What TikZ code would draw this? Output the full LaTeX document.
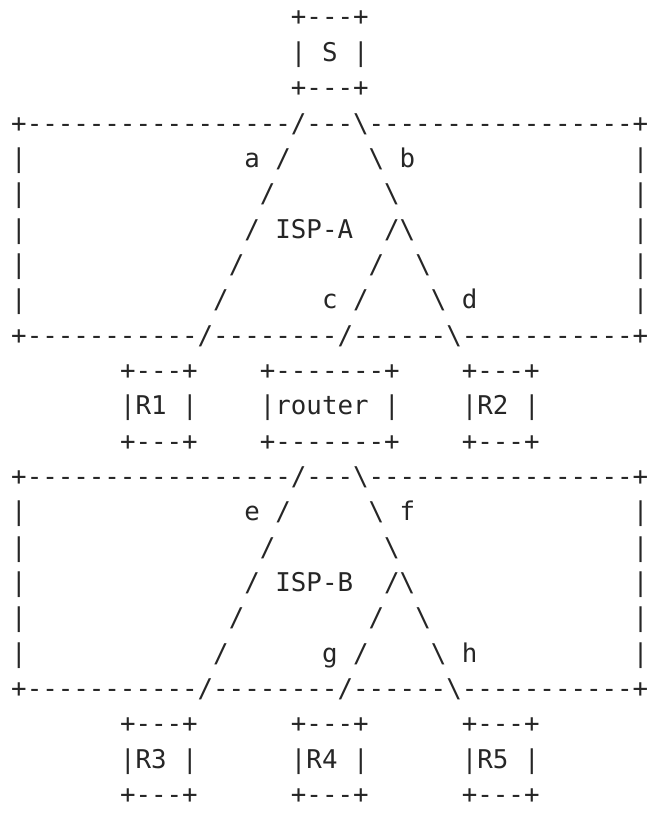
\documentclass[tikz,border=0pt]{standalone}
\usepackage{fontspec}
\setmonofont{DejaVu Sans Mono}
\newcommand{\bksl}{\textbackslash}
\tikzset{asc/.style={anchor=base west, inner sep=0pt, outer sep=0pt, text=black!85,
    font=\ttfamily\fontsize{25.81pt}{35.35pt}\selectfont}}
\begin{document}
\begin{tikzpicture}[x=15.54pt, y=-35.35pt]
      \fill[white] (0,0) rectangle (41.634,23);
      \useasboundingbox (0,0) rectangle (41.634,23);
      \begin{scope}[shift={(0.7227,-0.2645)}]
        % source
        \node[asc] (sTop) at (18,1) {+---+};
        \node[asc] (s)    at (18,2) {| S |};
        \node[asc] (sBot) at (18,3) {+---+};
        % the two providers
        \foreach \o/\isp/\linka/\linkb/\linkc/\linkd in {0/A/a/b/c/d, 10/B/e/f/g/h} {
          \node[asc] (top\isp) at (0,4+\o) {+-----------------/---\bksl-----------------+};
          \foreach \r in {5,...,9} {
            \node[asc] (lw\isp\r) at ( 0,\r+\o) {|};
            \node[asc] (rw\isp\r) at (40,\r+\o) {|};
          }
          \node[asc] (la\isp)   at (15,5+\o) {\linka{} /};
          \node[asc] (lb\isp)   at (23,5+\o) {\bksl{} \linkb};
          \node[asc] (sixl\isp) at (16,6+\o) {/};
          \node[asc] (sixr\isp) at (24,6+\o) {\bksl};
          \node[asc] (name\isp) at (15,7+\o) {/ ISP-\isp};
          \node[asc] (fork\isp) at (24,7+\o) {/\bksl};
          \node[asc] (eigl\isp) at (14,8+\o) {/};
          \node[asc] (eigm\isp) at (23,8+\o) {/};
          \node[asc] (eigr\isp) at (26,8+\o) {\bksl};
          \node[asc] (ninl\isp) at (13,9+\o) {/};
          \node[asc] (lc\isp)   at (20,9+\o) {\linkc{} /};
          \node[asc] (ld\isp)   at (27,9+\o) {\bksl{} \linkd};
          \node[asc] (bot\isp) at (0,10+\o) {+-----------/--------/------\bksl-----------+};
        }
        % routers between the providers
        \foreach \r/\pos in {11/t, 13/b} {
          \node[asc] (r1\pos)     at ( 7,\r) {+---+};
          \node[asc] (router\pos) at (16,\r) {+-------+};
          \node[asc] (r2\pos)     at (29,\r) {+---+};
        }
        \node[asc] (r1)     at ( 7,12) {|R1 |};
        \node[asc] (router) at (16,12) {|router |};
        \node[asc] (r2)     at (29,12) {|R2 |};
        % routers below ISP-B
        \foreach \c/\n in {7/3, 18/4, 29/5} {
          \node[asc] (r\n t) at (\c,21) {+---+};
          \node[asc] (r\n)   at (\c,22) {|R\n{} |};
          \node[asc] (r\n b) at (\c,23) {+---+};
        }
      \end{scope}
    \end{tikzpicture}
\end{document}
